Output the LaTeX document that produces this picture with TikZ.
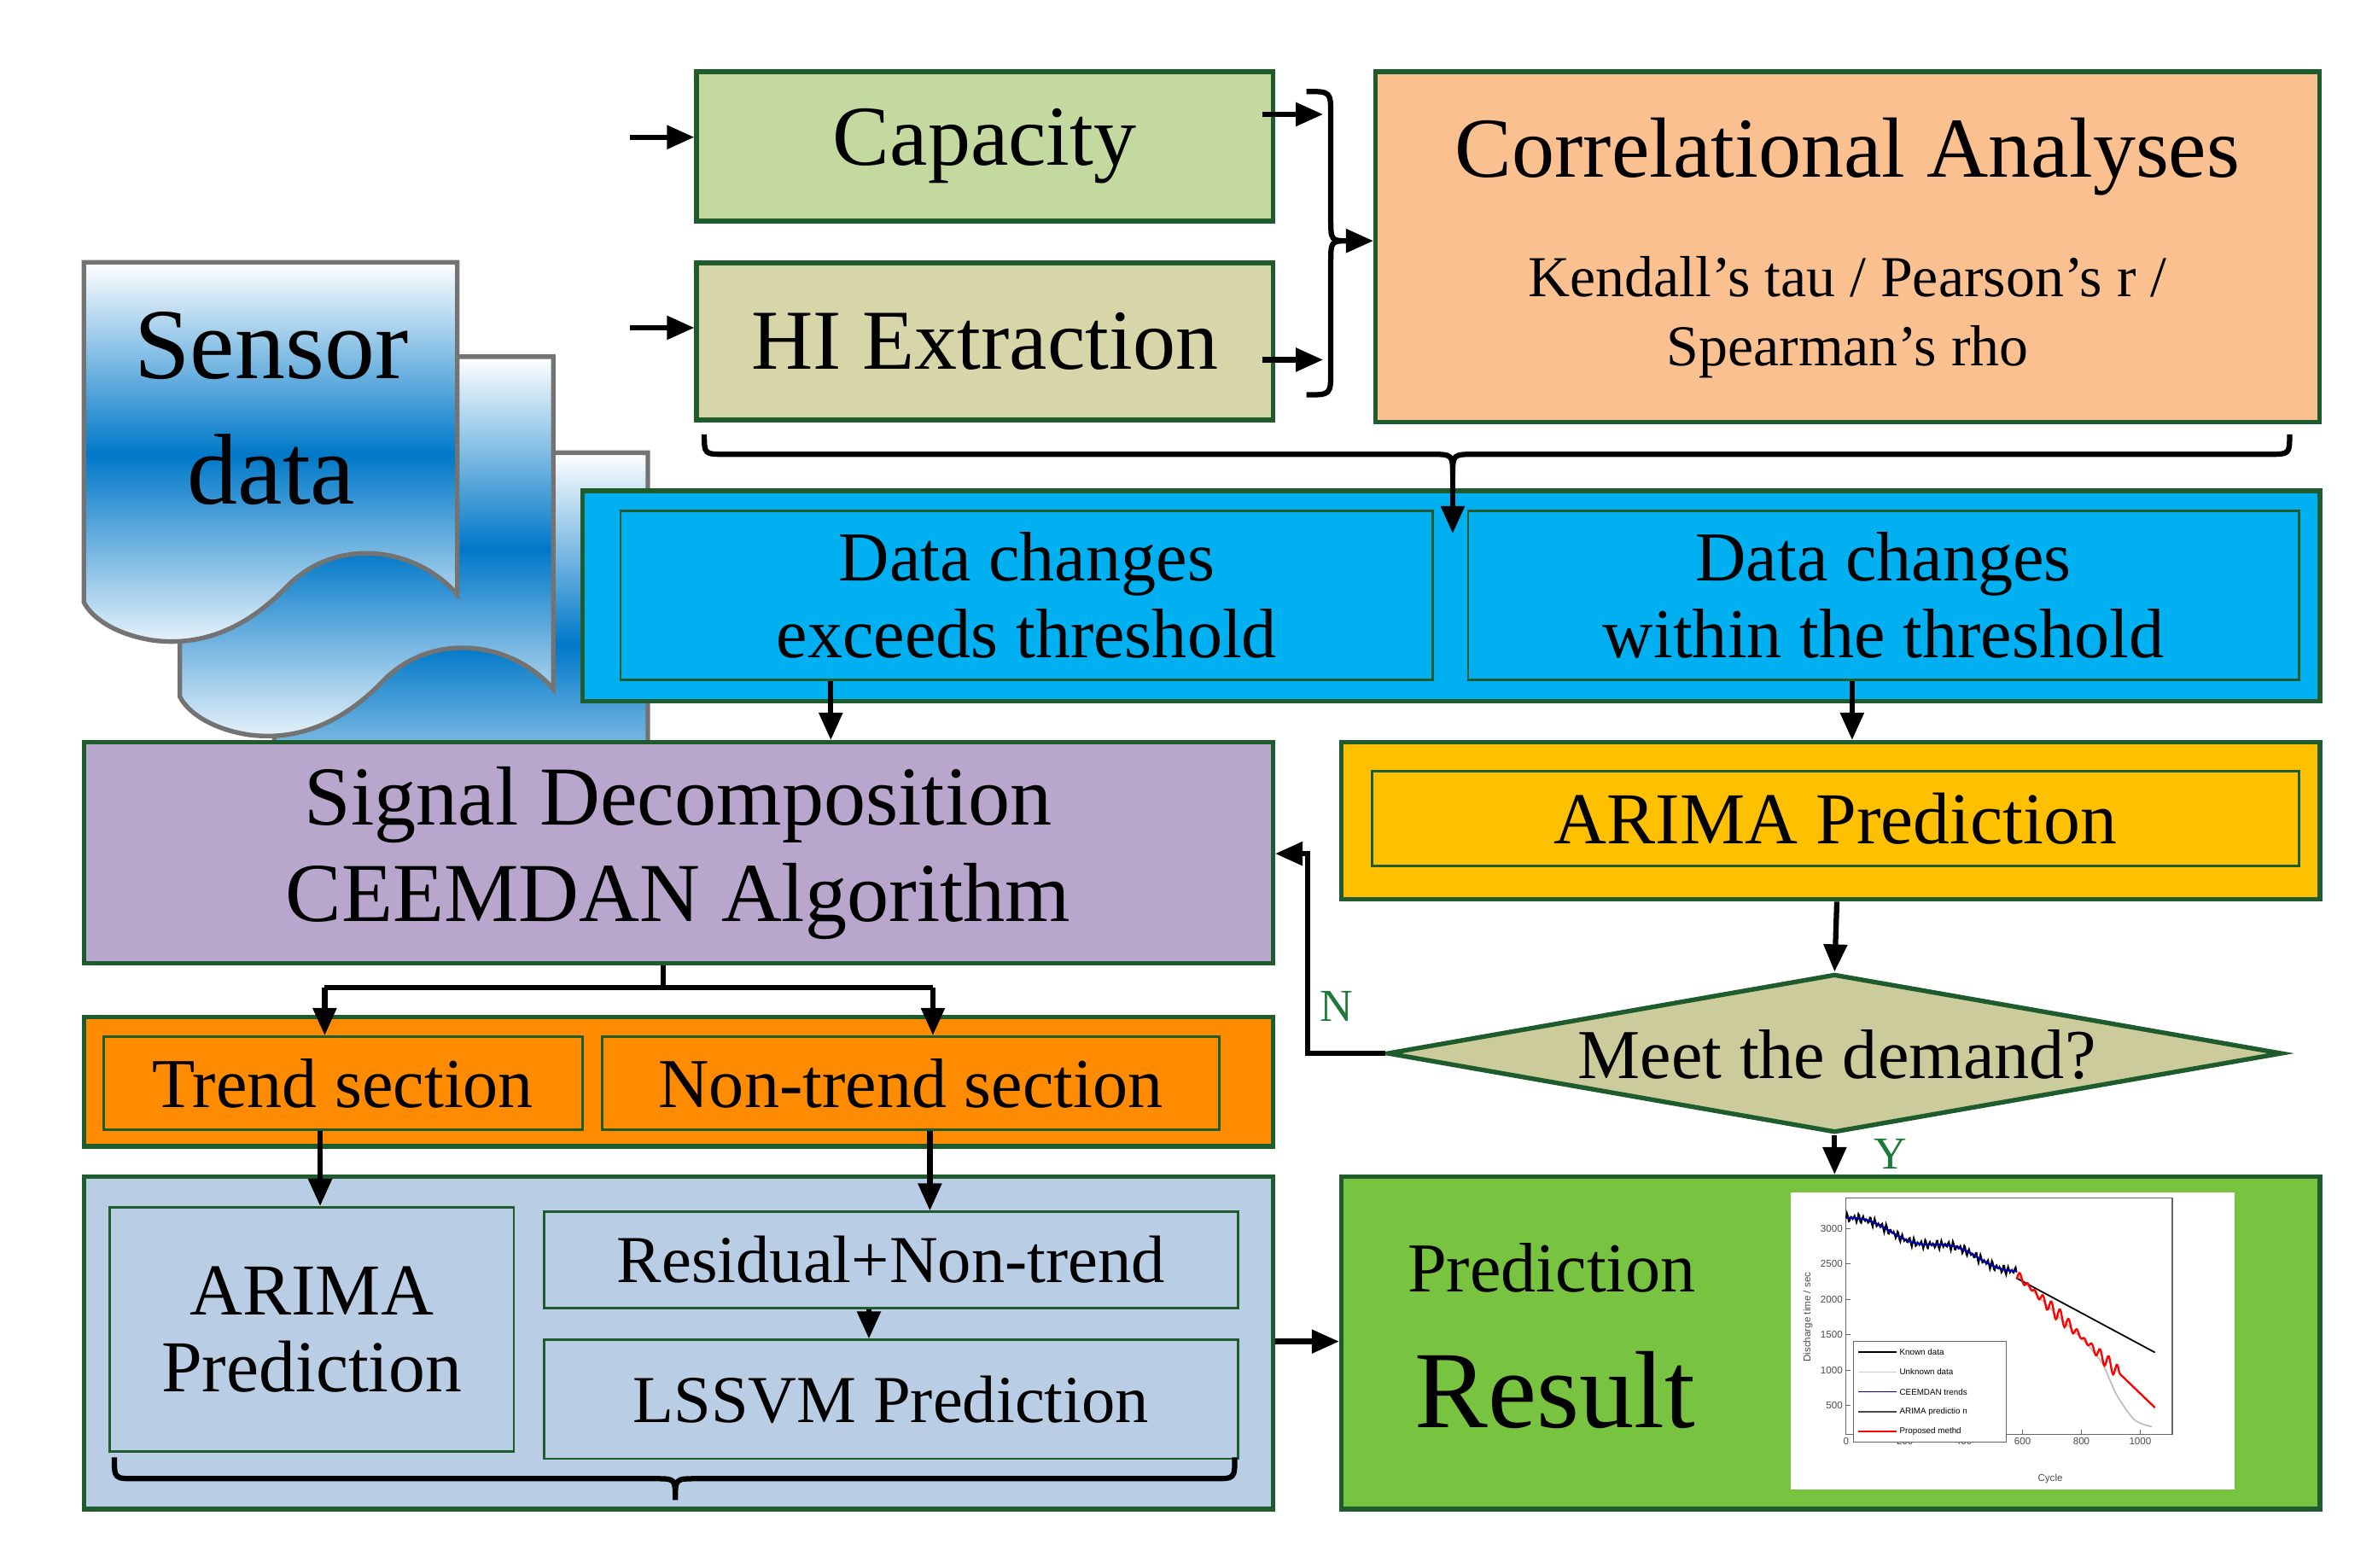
\documentclass[tikz,border=0pt]{standalone}
\usepackage{fontspec}
\setmainfont{Liberation Serif}
\newfontfamily\chartfont{Liberation Sans}
\usetikzlibrary{arrows.meta,calc,shapes.geometric}
\definecolor{bord}{HTML}{1E5C2E}
\definecolor{capg}{HTML}{C3D99F}
\definecolor{hig}{HTML}{D6D6A8}
\definecolor{peach}{HTML}{FAC090}
\definecolor{cyanb}{HTML}{00B0F0}
\definecolor{lav}{HTML}{B8A6CC}
\definecolor{gold}{HTML}{FFC000}
\definecolor{orng}{HTML}{FF8C00}
\definecolor{lblue}{HTML}{B9CDE5}
\definecolor{grn}{HTML}{78C440}
\definecolor{dia}{HTML}{CCCB9C}
\definecolor{docb}{HTML}{0078C8}
\definecolor{lblg}{HTML}{1E7A3A}
\begin{document}
\begin{tikzpicture}[x=1pt,y=-1pt,
  box/.style={draw=bord,line width=3pt,inner sep=0pt,align=center},
  inner/.style={draw=bord,line width=1.5pt,inner sep=0pt,align=center},
  arr/.style={line width=3.5pt,-{Triangle[length=18pt,width=15pt]}},
  ln/.style={line width=3.5pt},
  doc/.style={draw=black!55,line width=3pt,top color=white,bottom color=docb!8,middle color=docb},
  fs/.style={font=\fontsize{#1}{#1}\selectfont}]
\useasboundingbox (0,0) rectangle (1560,1028.6);
% documents
\foreach \dx/\dy in {125/-125,63/-62,0/0}{
\begin{scope}[shift={(\dx,-\dy)}]
\path[doc] (55,172) -- (300,172) -- (300,390) .. controls (272,358) and (220,352) .. (188,385)
  .. controls (160,414) and (130,424) .. (100,420) .. controls (75,416) and (60,405) .. (55,395) -- cycle;
\end{scope}}
\node[fs=66,text width=220pt,align=center] (sensor) at (178,268) {Sensor\\[0.25em]data};
% top boxes
\node[box,fill=capg,minimum width=378pt,minimum height=98pt,fs=56] (cap) at (646,96) {Capacity};
\node[box,fill=hig,minimum width=378pt,minimum height=103pt,fs=56] (hi) at (646,224) {HI Extraction};
\node[box,fill=peach,minimum width=619pt,minimum height=230pt] (cor) at (1212,162) {};
\node[fs=56] (cort) at (1212,103) {Correlational Analyses};
\node[fs=38,align=center] (cork) at (1212,208) {Kendall's tau / Pearson's r /\\[0.2em]Spearman's rho};
\coordinate (s1) at (413,90); \coordinate (s2) at (413,215);
\draw[arr] (s1) -- (cap.west |- s1);
\draw[arr] (s2) -- (hi.west |- s2);
% right brace
\coordinate (c1) at (828,75); \coordinate (c2) at (828,236);
\coordinate (c1e) at (868,75); \coordinate (c2e) at (868,236);
\draw[arr] (c1) -- (c1e);
\draw[arr] (c2) -- (c2e);
\draw[ln] (857,60) .. controls (873,60) .. (873,76) -- (873,143) .. controls (873,158) .. (885,158)
  .. controls (873,158) .. (873,173) -- (873,243) .. controls (873,259) .. (857,259);
\coordinate (bt) at (885,158);
\draw[arr] (bt) -- (cor.west |- bt);
% blue box
\node[box,fill=cyanb,minimum width=1140pt,minimum height=138pt] (blue) at (952,391) {};
\node[inner,fill=cyanb,minimum width=533pt,minimum height=111pt,fs=46] (dc1) at (673.5,390.5) {Data changes\\[0.1em]exceeds threshold};
\node[inner,fill=cyanb,minimum width=545pt,minimum height=111pt,fs=46] (dc2) at (1235.5,390.5) {Data changes\\[0.1em]within the threshold};
% top brace
\draw[ln] (462,285) .. controls (462,298) .. (476,298) -- (938,298) .. controls (953,298) .. (953,312)
  .. controls (953,298) .. (968,298) -- (1488,298) .. controls (1502,298) .. (1502,285);
\coordinate (tb) at (953,310);
\coordinate (tbe) at (953,350);
\draw[arr] (tb) -- (tbe);
% signal decomposition
\node[box,fill=lav,minimum width=780pt,minimum height=145pt,fs=55,align=center] (sig) at (445,559.5) {Signal Decomposition\\[0.15em]CEEMDAN Algorithm};
\draw[arr] (dc1.south -| 545,0) -- (sig.north -| 545,0);
% arima top
\node[box,fill=gold,minimum width=642pt,minimum height=103pt] (ar1) at (1201,538.5) {};
\node[inner,fill=gold,minimum width=608pt,minimum height=62pt,fs=48] (ar1i) at (1204,537) {ARIMA Prediction};
\draw[arr] (dc2.south -| 1215,0) -- (ar1.north -| 1215,0);
% diamond
\node[draw=bord,line width=3pt,fill=dia,diamond,aspect=5.8,minimum width=587pt,minimum height=104pt,inner sep=0pt] (dm) at (1203.5,691) {};
\node[fs=46] (dmt) at (1205,692) {Meet the demand?};
\draw[arr] (ar1.south -| 1205,0) -- (dm.north);
\coordinate (nc) at (858,691);
\draw[arr] (dm.west) -- (nc) -- (nc |- 0,560) -- (sig.east |- 0,560);
\node[text=lblg,fs=30] (nl) at (877,660) {N};
% orange
\node[box,fill=orng,minimum width=780pt,minimum height=85pt] (or) at (445,709.5) {};
\node[inner,fill=orng,minimum width=314pt,minimum height=61pt,fs=46] (tr) at (225,710.5) {Trend section};
\node[inner,fill=orng,minimum width=405pt,minimum height=61pt,fs=46] (nt) at (597.5,710.5) {Non-trend section};
\coordinate (sp) at (435,648);
\coordinate (spl) at (213,648);
\coordinate (spr) at (612,648);
\draw[ln] (sig.south -| sp) -- (sp);
\draw[ln] (spl) -- (spr);
\draw[arr] (spl) -- (tr.north -| spl);
\draw[arr] (spr) -- (nt.north -| spr);
% bottom
\node[box,fill=lblue,minimum width=780pt,minimum height=218pt] (lb) at (445,881) {};
\node[inner,fill=lblue,minimum width=265pt,minimum height=160pt,fs=48] (ar2) at (204.5,872) {ARIMA\\[0.05em]Prediction};
\node[inner,fill=lblue,minimum width=455pt,minimum height=63pt,fs=44] (res) at (584.5,826.5) {Residual+Non-trend};
\node[inner,fill=lblue,minimum width=455pt,minimum height=78pt,fs=44] (ls) at (584.5,918) {LSSVM Prediction};
\draw[arr] (tr.south -| 210,0) -- (ar2.north -| 210,0);
\draw[arr] (nt.south -| 610,0) -- (res.north -| 610,0);
\draw[arr] (res.south -| 570,0) -- (ls.north -| 570,0);
\draw[ln] (75,956) .. controls (75,970) .. (89,970) -- (430,970) .. controls (443,970) .. (443,984)
  .. controls (443,970) .. (457,970) -- (796,970) .. controls (810,970) .. (810,956);
% result
\node[box,fill=grn,minimum width=642pt,minimum height=218pt] (resb) at (1201,881) {};
\node[fs=46] (pr) at (1018,832) {Prediction};
\node[fs=72] (rs) at (1020,912) {Result};
\draw[arr] (lb.east |- 0,880) -- (resb.west |- 0,880);
\draw[arr] (dm.south) -- (resb.north -| dm.south);
\node[text=lblg,fs=30] (yl) at (1240,757) {Y};
% chart
\fill[white] (1175,782) rectangle (1466,977);
\draw[black!60,line width=0.8pt] (1211,786) rectangle (1425,941);
\begin{scope}[font=\chartfont\fontsize{6.5}{7}\selectfont,text=black!70]
\foreach \v in {500,1000,1500,2000,2500,3000}{
  \node[anchor=east,inner sep=1pt] (yt\v) at (1210,{945.2-0.0464*\v}) {\v};
  \draw[black!60,line width=0.6pt] (1211,{945.2-0.0464*\v}) -- ++(3,0);}
\foreach \v in {0,200,400,600,800,1000}{
  \node[anchor=north,inner sep=2pt] (xt\v) at ({1211+0.193*\v},941) {\v};
  \draw[black!60,line width=0.6pt] ({1211+0.193*\v},941) -- ++(0,-3);}
\node[rotate=90] (ylab) at (1186,864) {Discharge time / sec};
\node (xlab) at (1345,970) {Cycle};
\end{scope}
\draw[black,line width=1pt] plot[domain=0:580,samples=180] ({1211+0.193*\x},{945.2-0.0464*(3150-1.25*\x+60*sin(1.2*\x)+45*sin(27*\x)+30*sin(19*\x))});
\draw[blue!70!black,line width=1.3pt] plot[domain=0:580,samples=60] ({1211+0.193*\x},{945.2-0.0464*(3150-1.25*\x+60*sin(1.2*\x))});
\draw[black!25,line width=1pt] plot[smooth] coordinates {({1211+0.193*580},{945.2-0.0464*2350}) ({1211+0.193*700},{945.2-0.0464*1850}) ({1211+0.193*800},{945.2-0.0464*1450}) ({1211+0.193*870},{945.2-0.0464*1100}) ({1211+0.193*920},{945.2-0.0464*650}) ({1211+0.193*980},{945.2-0.0464*300}) ({1211+0.193*1040},{945.2-0.0464*200})};
\draw[black,line width=1pt] ({1211+0.193*580},{945.2-0.0464*2300}) -- ({1211+0.193*1050},{945.2-0.0464*1250});
\draw[red,line width=1.3pt] plot[domain=580:1050,samples=160] ({1211+0.193*\x},{945.2-0.0464*(2350-4.0*(\x-580)+(\x<930)*(60*sin(13*\x)+40*sin(11*\x)))});
\draw[black!60,fill=white,line width=0.6pt] (1216,880) rectangle (1316,946);
\begin{scope}[font=\chartfont\fontsize{5.5}{6}\selectfont]
\foreach \i/\c/\t in {0/black/Known data,1/black!20/Unknown data,2/blue!70!black/CEEMDAN trends,3/black!70/ARIMA predictio n,4/red/Proposed methd}{
  \draw[\c,line width=0.9pt] (1219,{887+\i*13}) -- (1244,{887+\i*13});
  \node[anchor=west,inner sep=1pt] (lg\i) at (1245,{887+\i*13}) {\t};}
\end{scope}
\end{tikzpicture}
\end{document}
